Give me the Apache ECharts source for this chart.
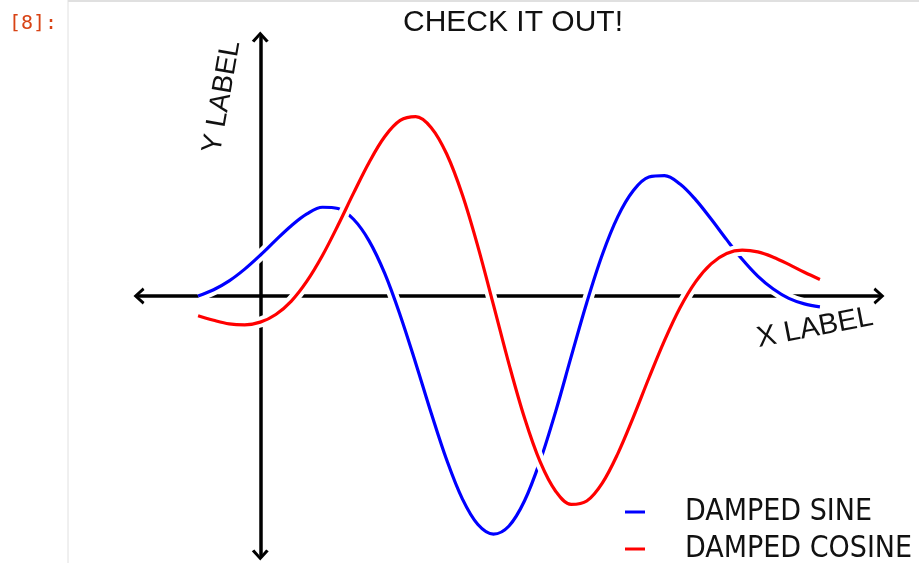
<!DOCTYPE html>
<html>
<head>
<meta charset="utf-8">
<script src="https://cdn.jsdelivr.net/npm/echarts@6/dist/echarts.min.js"></script>
<style>
html,body{margin:0;padding:0;background:#fff;}
#chart{width:919px;height:563px;}
</style>
</head>
<body>
<div id="chart"></div>
<script>
// x positions of the samples
var xs = [0, 0.25, 0.5, 0.75, 1, 1.25, 1.5, 1.75, 2, 2.25, 2.5, 2.75, 3, 3.25, 3.5, 3.75, 4, 4.25, 4.5, 4.75, 5,
          5.25, 5.5, 5.75, 6, 6.25, 6.5, 6.75, 7, 7.25, 7.5, 7.75, 8, 8.25, 8.5, 8.75, 9, 9.25, 9.5, 9.75, 10];
// values
var dampedSine = [0, 0.026, 0.063, 0.112, 0.170, 0.233, 0.293, 0.342, 0.370, 0.365, 0.320, 0.230, 0.095, -0.080,
                  -0.280, -0.489, -0.685, -0.846, -0.953, -0.993, -0.959, -0.854, -0.688, -0.482, -0.253, -0.028,
                  0.172, 0.331, 0.440, 0.496, 0.502, 0.467, 0.402, 0.321, 0.235, 0.153, 0.083, 0.029, -0.010,
                  -0.033, -0.045];
var dampedCosine = [-0.082, -0.101, -0.116, -0.120, -0.109, -0.077, -0.021, 0.062, 0.169, 0.295, 0.429, 0.557,
                    0.664, 0.732, 0.748, 0.702, 0.591, 0.422, 0.206, -0.037, -0.284, -0.509, -0.691, -0.814,
                    -0.869, -0.855, -0.780, -0.657, -0.505, -0.342, -0.186, -0.049, 0.059, 0.134, 0.177, 0.191,
                    0.184, 0.162, 0.132, 0.099, 0.069];
var seriesNames = ['DAMPED SINE', 'DAMPED COSINE'];
var titleText = 'CHECK IT OUT!';
var xLabel = 'X LABEL';
var yLabel = 'Y LABEL';
var yAxisAtX = 1;

function pairs(ys) { return xs.map(function (x, i) { return [x, ys[i]]; }); }

var chart = echarts.init(document.getElementById('chart'), null, {renderer: 'canvas'});
var chevron = 'path://M0,11 L10,0 L20,11 L17,13 L10,5 L3,13 Z';
var axisLineStyle = {color: '#000', width: 3.5};
var xMin = -0.95, xMax = 10.95;

function outline(ys, name) {
  return {type: 'line', name: name, data: pairs(ys), smooth: 0.35, symbol: 'none', silent: true,
          lineStyle: {color: '#fff', width: 11}, emphasis: {disabled: true}};
}
function curve(ys, name, color) {
  return {type: 'line', name: name, data: pairs(ys), smooth: 0.35, symbol: 'none', silent: true,
          lineStyle: {color: color, width: 3.2}, itemStyle: {color: color}, emphasis: {disabled: true}};
}
function legendFor(name, top) {
  return {
    data: [{name: name, icon: 'rect'}],
    orient: 'vertical', left: 625, top: top, padding: 0,
    itemWidth: 20, itemHeight: 3, selectedMode: false,
    textStyle: {fontFamily: 'DejaVu Sans Condensed, sans-serif', fontSize: 30,
                lineHeight: 28, color: '#111', padding: [0, 0, 0, 35]}
  };
}

var option = {
  animation: false,
  backgroundColor: '#fff',
  title: {
    text: titleText, left: 508, textAlign: 'center', top: 3,
    textStyle: {fontFamily: 'Liberation Sans', fontSize: 30, fontWeight: 'normal', color: '#111'}
  },
  grid: {left: 139, right: 40, top: 37, bottom: 8, containLabel: false},
  xAxis: [{
    type: 'value', min: xMin, max: xMax,
    axisLine: {onZero: true, lineStyle: axisLineStyle, symbol: [chevron, chevron], symbolSize: [20, 11]},
    axisTick: {show: false}, axisLabel: {show: false}, splitLine: {show: false}
  }, {
    type: 'value', min: xMin - yAxisAtX, max: xMax - yAxisAtX, show: false,
    axisLine: {show: false}, axisTick: {show: false}, axisLabel: {show: false}, splitLine: {show: false}
  }],
  yAxis: {
    type: 'value', min: -1.08, max: 1.08,
    axisLine: {show: true, onZero: true, onZeroAxisIndex: 1, lineStyle: axisLineStyle,
               symbol: [chevron, chevron], symbolSize: [20, 11]},
    axisTick: {show: false}, axisLabel: {show: false}, splitLine: {show: false}
  },
  legend: [legendFor(seriesNames[0], 497), legendFor(seriesNames[1], 534)],
  graphic: [
    {type: 'line', shape: {x1: 68, y1: 0, x2: 68, y2: 563}, style: {stroke: '#e0e0e0', lineWidth: 1}, silent: true},
    {type: 'line', shape: {x1: 68, y1: 1, x2: 919, y2: 1}, style: {stroke: '#e0e0e0', lineWidth: 2}, silent: true},
    {type: 'text', x: 9, y: 24, silent: true,
     style: {text: '[8]:', font: '20px "DejaVu Sans Mono", monospace', fill: '#d84315', verticalAlign: 'middle'}},
    {type: 'text', x: 222, y: 97, rotation: 80 * Math.PI / 180, silent: true,
     style: {text: yLabel, font: '28px "Liberation Sans"', fill: '#111', align: 'center', verticalAlign: 'middle'}},
    {type: 'text', x: 815, y: 328, rotation: 11 * Math.PI / 180, silent: true,
     style: {text: xLabel, font: '29px "Liberation Sans"', fill: '#111', align: 'center', verticalAlign: 'middle'}}
  ],
  series: [
    outline(dampedSine, 'sine-outline'),
    curve(dampedSine, seriesNames[0], '#0000ff'),
    outline(dampedCosine, 'cosine-outline'),
    curve(dampedCosine, seriesNames[1], '#ff0000')
  ]
};
chart.setOption(option);
</script>
</body>
</html>
